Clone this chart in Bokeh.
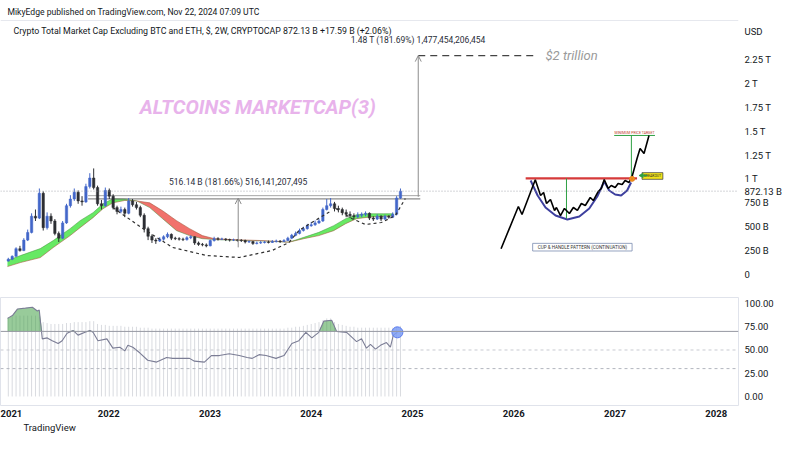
import numpy as np
import pandas as pd
from bokeh.plotting import figure
from bokeh.layouts import column
from bokeh.models import Range1d, FixedTicker, Label, Span, Arrow, OpenHead, NormalHead, Title
from bokeh.core.properties import value
from bokeh.embed import file_html
from bokeh.resources import INLINE

FONT = "Roboto"
TXT = "#131722"

# ---------------- data ----------------
candle_start = "2021-01-04"          # 2-week candles
candle_first_open = 140
candle_close = [160, 190, 270, 250, 360, 440, 610, 590, 850, 490,
                610, 560, 430, 380, 540, 720, 790, 860, 770, 760,
                920, 1010, 910, 740, 720, 880, 820, 700, 660, 680,
                640, 770, 730, 700, 620, 480, 400, 360, 350, 370,
                395, 420, 380, 375, 370, 365, 385, 395, 330, 315,
                310, 300, 355, 375, 370, 372, 365, 360, 362, 358,
                355, 340, 345, 325, 330, 335, 340, 335, 345, 350,
                345, 355, 380, 410, 430, 460, 480, 510, 520, 540,
                560, 680, 720, 740, 690, 680, 650, 630, 615, 605,
                620, 630, 640, 590, 580, 610, 580, 610, 600, 630,
                800, 872.13]
candle_high = [175, 200, 285, 300, 380, 470, 640, 680, 900, 870,
               650, 640, 580, 450, 560, 740, 830, 900, 880, 820,
               950, 1060, 1110, 930, 780, 910, 900, 840, 720, 710,
               700, 800, 790, 760, 720, 640, 500, 420, 380, 390,
               410, 440, 430, 395, 390, 385, 400, 410, 400, 345,
               330, 325, 365, 395, 390, 385, 380, 375, 375, 370,
               370, 365, 355, 350, 345, 350, 350, 355, 360, 365,
               360, 370, 395, 425, 450, 480, 500, 530, 550, 565,
               580, 700, 790, 800, 760, 720, 700, 680, 660, 640,
               650, 650, 660, 650, 610, 630, 620, 625, 620, 650,
               820, 900]
candle_low = [135, 150, 185, 240, 245, 350, 430, 560, 580, 460,
              470, 530, 410, 340, 370, 530, 700, 770, 740, 720,
              750, 900, 890, 720, 680, 710, 790, 680, 630, 640,
              600, 630, 710, 680, 600, 440, 360, 330, 320, 340,
              355, 380, 360, 360, 355, 350, 355, 370, 310, 300,
              295, 285, 295, 345, 355, 360, 350, 345, 350, 345,
              340, 325, 330, 310, 315, 320, 325, 325, 330, 335,
              330, 340, 350, 370, 400, 420, 450, 470, 500, 510,
              530, 550, 670, 700, 660, 650, 620, 600, 590, 580,
              590, 600, 610, 570, 560, 570, 560, 570, 585, 590,
              620, 790]

ribbon_t = [2021.000, 2021.128, 2021.324, 2021.452, 2021.521, 2021.619, 2021.717, 2021.845,
            2021.943, 2022.041, 2022.159, 2022.277, 2022.405, 2022.532, 2022.670, 2022.798,
            2022.925, 2023.043, 2023.191, 2023.485, 2023.682, 2023.780, 2023.927, 2024.075,
            2024.222, 2024.340, 2024.448, 2024.566, 2024.713, 2024.811]
ribbon_fast = [146, 198, 271, 355, 407, 480, 563, 647, 740, 793, 790, 770, 700, 584, 459,
               407, 375, 365, 360, 352, 343, 338, 389, 441, 511, 584, 626, 636, 636, 636]
ribbon_slow = [83, 125, 177, 282, 334, 407, 490, 595, 688, 750, 775, 770, 750, 667, 563,
               480, 407, 375, 366, 356, 346, 338, 375, 407, 459, 532, 584, 600, 608, 615]

cup_t = [2022.041, 2022.336, 2022.631, 2022.965, 2023.289, 2023.613, 2023.780, 2023.878, 2024.006, 2024.202]
cup_v = [701, 481, 283, 199, 178, 251, 335, 460, 544, 670]
handle_t = [2024.242, 2024.399, 2024.536, 2024.694, 2024.831, 2024.929]
handle_v = [691, 586, 523, 544, 617, 795]

measure_t = [2023.279, 2025.057]
measure_low = [284.1, 813.2]
measure_high = [800.2, 2290.6]
measure_text = ["516.14 B (181.66%) 516,141,207,495", "1.48 T (181.69%) 1,477,454,206,454"]

range_t = [2021.796, 2025.077]
range_levels = [825, 791]

target_t = [2025.057, 2026.236]
target_level = 2290.6
target_label = "$2 trillion"
target_label_t = 2026.314

last_price = 872.13
last_price_label = "872.13 B"
currency_level, currency_label = 2543, "USD"
watermark = "ALTCOINS MARKETCAP(3)"
watermark_t, watermark_v = 2022.306, 1758

price_ticks = [0, 250, 500, 750, 1000, 1250, 1500, 1750, 2000, 2250]
price_tick_labels = ["0", "250 B", "500 B", "750 B", "1 T", "1.25 T", "1.5 T", "1.75 T", "2 T", "2.25 T"]
rsi_ticks = [0, 25, 50, 75, 100]
rsi_tick_labels = ["0.00", "25.00", "50.00", "75.00", "100.00"]
year_ticks = [2021, 2022, 2023, 2024, 2025, 2026, 2027, 2028]

rsi_t = [2021.000, 2021.049, 2021.098, 2021.177, 2021.246, 2021.295, 2021.314, 2021.344, 2021.393,
         2021.442, 2021.501, 2021.540, 2021.589, 2021.648, 2021.697, 2021.766, 2021.815, 2021.845,
         2021.894, 2021.982, 2022.041, 2022.110, 2022.159, 2022.189, 2022.238, 2022.306, 2022.385,
         2022.473, 2022.572, 2022.631, 2022.729, 2022.798, 2022.847, 2022.945, 2023.014, 2023.092,
         2023.191, 2023.289, 2023.367, 2023.417, 2023.485, 2023.554, 2023.652, 2023.731, 2023.809,
         2023.878, 2023.947, 2024.006, 2024.075, 2024.124, 2024.202, 2024.251, 2024.350, 2024.448,
         2024.497, 2024.546, 2024.585, 2024.635, 2024.684, 2024.743, 2024.782, 2024.811, 2024.851]
rsi_v = [84, 87, 94, 95, 96, 92, 93, 62, 63, 60, 57, 60, 68, 71, 66, 69, 71, 69, 60, 62,
         52, 53, 49, 55, 53, 47, 39, 37, 42, 41, 41, 41, 38, 37, 44, 44, 46, 44, 42, 41,
         45, 44, 41, 44, 57, 60, 69, 63, 69, 81, 82, 70, 69, 59, 62, 52, 56, 51, 55, 58,
         53, 66, 69]
osc_top = [85, 86, 87, 87, 87, 87, 87, 87, 86, 80,
           79, 78, 78, 78, 78, 79, 79, 80, 80, 80,
           80, 81, 81, 78, 77, 77, 76, 76, 76, 76,
           75, 75, 75, 75, 74, 74, 74, 73, 73, 73,
           73, 73, 73, 73, 73, 73, 73, 73, 73, 73,
           73, 73, 73, 73, 73, 73, 73, 73, 73, 73,
           73, 73, 73, 73, 73, 73, 73, 73, 73, 73,
           73, 73, 74, 74, 75, 75, 76, 77, 78, 79,
           80, 82, 84, 84, 80, 78, 77, 76, 75, 75,
           74, 74, 74, 74, 74, 74, 74, 74, 74, 74,
           75, 76]

# cup & handle sketch (illustration on the right)
sketch_t = [2025.875, 2026.046, 2026.082, 2026.213, 2026.265, 2026.295, 2026.324, 2026.363, 2026.403,
            2026.422, 2026.462, 2026.501, 2026.550, 2026.589, 2026.629, 2026.668, 2026.707, 2026.756,
            2026.786, 2026.835, 2026.865, 2026.894, 2026.933, 2026.963, 2027.002, 2027.031, 2027.071,
            2027.100, 2027.139, 2027.169, 2027.218, 2027.248, 2027.287, 2027.336]
sketch_v = [269, 712, 628, 991, 827, 858, 743, 785, 670, 701, 617, 691, 638, 701, 670, 743, 722, 806,
            774, 869, 900, 994, 900, 931, 910, 952, 942, 984, 963, 1026, 1214, 1319, 1266, 1455]
bowl_t = [2026.167, 2026.236, 2026.314, 2026.413, 2026.530, 2026.648, 2026.746, 2026.825, 2026.894,
          2026.943, 2027.002, 2027.061, 2027.120, 2027.159]
bowl_v = [984, 827, 701, 617, 576, 607, 691, 816, 973, 879, 837, 827, 879, 963]
rim_t = [2026.118, 2027.218]
rim_v = 1005
depth_t, depth_v = 2026.521, [1005, 586]
rise_t, rise_v = 2027.162, [1005, 1455]
goal_t, goal_v = [2026.992, 2027.395], 1455
goal_text, goal_text_t, goal_text_v = "MINIMUM PRICE TARGET", 2027.194, 1479
breakout_t, breakout_v = 2027.169, 1001
breakout_box_t, breakout_box_v = 2027.370, 1031
arrow_t, arrow_v = [2027.316, 2027.238], 1036
caption_text, caption_t, caption_v = "CUP & HANDLE PATTERN (CONTINUATION)", 2026.678, 286

# ---------------- derived ----------------
dates = pd.date_range(candle_start, periods=len(candle_close), freq="14D")
t = np.asarray(dates.year + (dates.dayofyear - 1) / 365.25, dtype=float)
close = np.array(candle_close, float)
open_ = np.concatenate([[candle_first_open], close[:-1]])
UP, DN = "#4266c9", "#2c2e33"
colors = [UP if c >= o else DN for o, c in zip(open_, close)]
bar_w = 14 / 365.25 * 0.62

xr = Range1d(2020.9312, 2028.22)

# ---------------- price pane ----------------
p1 = figure(width=784, height=297, x_range=xr, y_range=Range1d(-240.7, 2867.4),
            output_backend="svg", toolbar_location=None, title=None,
            x_axis_location=None, y_axis_location="right",
            min_border_left=0, min_border_right=42, min_border_top=0, min_border_bottom=0,
            background_fill_color="white", border_fill_color="white", outline_line_color=None)
p1.grid.visible = False
ya = p1.yaxis[0]
axis_ticks = price_ticks + [last_price, currency_level]
axis_labels = price_tick_labels + [last_price_label, currency_label]
ya.ticker = FixedTicker(ticks=axis_ticks)
ya.major_label_overrides = {k: v for k, v in zip(axis_ticks, axis_labels)}
ya.axis_line_color = None
ya.major_tick_line_color = None
ya.minor_tick_line_color = None
ya.major_tick_out = 0
ya.major_label_standoff = 6
ya.major_label_text_font = FONT
ya.major_label_text_font_size = "9.5px"
ya.major_label_text_color = TXT

# faint chart-panel border under the header
p1.add_layout(Span(location=2658, dimension="width", line_color="#e6e8ee", line_width=1))
p1.add_layout(Span(location=last_price, dimension="width", line_color="#9598a1",
                   line_dash="1 2", line_width=1, line_alpha=0.8))

# watermark
p1.text(x=[watermark_t], y=[watermark_v], text=[watermark], text_font=value(FONT),
        text_font_size="20px", text_font_style="bold italic", text_color="#e8b3eb",
        text_baseline="middle", text_align="left")

# ribbon
fast = np.array(ribbon_fast, float)
slow = np.array(ribbon_slow, float)
p1.varea(x=ribbon_t, y1=slow, y2=np.maximum(fast, slow), fill_color="#5fe85c", fill_alpha=0.95)
p1.varea(x=ribbon_t, y1=fast, y2=np.maximum(fast, slow), fill_color="#f06a64", fill_alpha=0.95)
p1.line(ribbon_t, fast, line_color="#3f8f3a", line_width=0.7, line_alpha=0.7)
p1.line(ribbon_t, slow, line_color="#a3553a", line_width=0.7, line_alpha=0.8)

# measuring lines
p1.segment(x0=[range_t[0]] * 2, x1=[range_t[1]] * 2, y0=range_levels, y1=range_levels,
           line_color=["#a6a6a6", "#6f6f6f"], line_width=1)

# candles
p1.segment(x0=t, y0=candle_low, x1=t, y1=candle_high, line_color=colors, line_width=1)
p1.vbar(x=t, width=bar_w, top=np.maximum(open_, close), bottom=np.minimum(open_, close),
        fill_color=colors, line_color=colors, line_width=0.5)

# cup / handle dashed curves
p1.line(cup_t, cup_v, line_color="#2f2f2f", line_dash="3 3", line_width=1.2)
p1.line(handle_t, handle_v, line_color="#2f2f2f", line_dash="3 3", line_width=1.2)

# measure arrows + texts
for mt, lo, hi in zip(measure_t, measure_low, measure_high):
    p1.add_layout(Arrow(end=OpenHead(size=6, line_color="#8c8c8c", line_width=1),
                        x_start=mt, y_start=lo, x_end=mt, y_end=hi,
                        line_color="#8c8c8c", line_width=1))
p1.text(x=measure_t, y=measure_high, text=measure_text, text_align="center",
        text_baseline="middle", y_offset=-16, text_font=value(FONT),
        text_font_size="8.5px", text_color="#2a2e39")

# $2 trillion target
p1.line(target_t, [target_level] * 2, line_color="#444444", line_dash="7 5", line_width=1.4)
p1.text(x=[target_label_t], y=[target_level], text=[target_label], text_font=value(FONT),
        text_font_size="13px", text_font_style="italic", text_color="#9a9a9a",
        text_baseline="middle", text_align="left")

# illustration
p1.line(bowl_t, bowl_v, line_color="#3d3f9e", line_width=2)
p1.line(rim_t, [rim_v] * 2, line_color="#d63a3a", line_width=2.2)
p1.segment(x0=[depth_t, rise_t], x1=[depth_t, rise_t], y0=[depth_v[0], rise_v[0]],
           y1=[depth_v[1], rise_v[1]], line_color="#2ea043", line_width=1)
p1.line(goal_t, [goal_v] * 2, line_color="#2ea043", line_width=1)
p1.line(sketch_t, sketch_v, line_color="black", line_width=1.6)
p1.scatter([breakout_t], [breakout_v], marker="circle_x", size=5, fill_color="#f39c12",
           line_color="#e67e22")
p1.add_layout(Arrow(end=NormalHead(size=4, fill_color="#2ea043", line_color="#2ea043"),
                    x_start=arrow_t[0], x_end=arrow_t[1], y_start=arrow_v, y_end=arrow_v,
                    line_color="#2ea043", line_width=1.5))
p1.rect(x=[breakout_box_t], y=[breakout_box_v], width=0.206, height=70,
        fill_color="#f2e21b", line_color="#333333", line_width=0.7)
p1.text(x=[breakout_box_t], y=[breakout_box_v], text=["BREAKOUT"], text_font=value(FONT),
        text_font_size="3.5px", text_align="center", text_baseline="middle", text_color="#222")
p1.text(x=[goal_text_t], y=[goal_text_v], text=[goal_text], text_font=value(FONT),
        text_font_size="3.5px", text_align="center", text_baseline="middle", text_color="#c0392b")
p1.rect(x=[caption_t], y=[caption_v], width=0.982, height=80,
        fill_color="white", line_color="#7a8bb0", line_width=0.8)
p1.text(x=[caption_t], y=[caption_v], text=[caption_text], text_font=value(FONT),
        text_font_size="4.6px", text_align="center", text_baseline="middle", text_color="#333")

# header & legend texts
p1.add_layout(Label(x=7, y=286, x_units="screen", y_units="screen", text_baseline="middle",
                    text="MikyEdge published on TradingView.com, Nov 22, 2024 07:09 UTC",
                    text_font=FONT, text_font_size="8.6px", text_color=TXT))
p1.add_layout(Label(x=13, y=266.5, x_units="screen", y_units="screen", text_baseline="middle",
                    text="Crypto Total Market Cap Excluding BTC and ETH, $, 2W, CRYPTOCAP  872.13 B  +17.59 B (+2.06%)",
                    text_font=FONT, text_font_size="8.8px", text_color=TXT))

# ---------------- RSI pane ----------------
p2 = figure(width=784, height=137, x_range=xr, y_range=Range1d(-9.68, 106.45),
            output_backend="svg", toolbar_location=None, title=None,
            y_axis_location="right",
            min_border_left=0, min_border_right=42, min_border_top=0, min_border_bottom=29,
            background_fill_color="white", border_fill_color="white", outline_line_color="#e0e3eb")
p2.grid.visible = False
ra = p2.yaxis[0]
ra.ticker = FixedTicker(ticks=rsi_ticks)
ra.major_label_overrides = {k: v for k, v in zip(rsi_ticks, rsi_tick_labels)}
xa = p2.xaxis[0]
xa.ticker = FixedTicker(ticks=year_ticks)
xa.major_label_overrides = {y: str(y) for y in year_ticks}
for ax in (ra, xa):
    ax.axis_line_color = None
    ax.major_tick_line_color = None
    ax.minor_tick_line_color = None
    ax.major_tick_out = 0
    ax.major_label_text_font = FONT
    ax.major_label_text_font_size = "9.5px"
    ax.major_label_text_color = TXT
ra.major_label_standoff = 6
xa.major_label_standoff = 4
xa.major_label_text_font_style = "bold"

p2.segment(x0=t, x1=t, y0=0, y1=osc_top, line_color="#d9dbe0", line_width=1)
p2.add_layout(Span(location=70, dimension="width", line_color="#9598a1", line_width=1))
p2.add_layout(Span(location=50, dimension="width", line_color="#c8cad1", line_width=1, line_dash="3 3"))
p2.add_layout(Span(location=30, dimension="width", line_color="#b2b5be", line_width=1, line_dash="3 3"))
rsi_arr = np.array(rsi_v, float)
p2.varea(x=rsi_t, y1=70, y2=np.maximum(rsi_arr, 70), fill_color="#43a047", fill_alpha=0.55)
p2.line(rsi_t, rsi_v, line_color="#7b7d95", line_width=1.1)
p2.scatter([rsi_t[-1]], [rsi_v[-1]], size=11, fill_color="#7b9cf5", fill_alpha=0.85,
           line_color="#5a7bef")

p2.add_layout(Title(text="TradingView", align="left", offset=23, standoff=0,
                    text_font=FONT, text_font_size="9.5px", text_font_style="normal",
                    text_color=TXT), "below")

layout = column(p1, p2, spacing=0)
open("out.html", "w").write(file_html(layout, INLINE))
